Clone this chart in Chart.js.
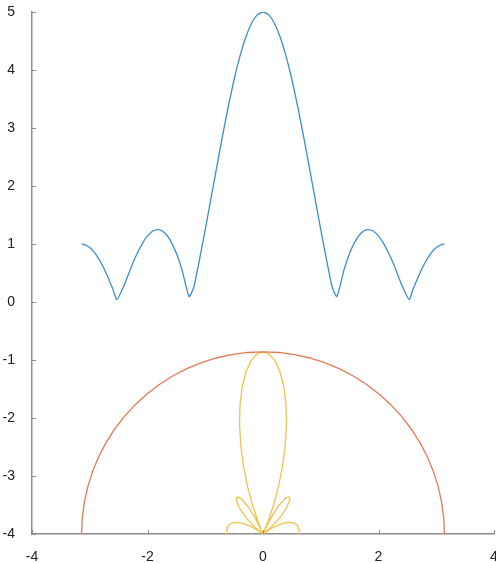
<!DOCTYPE html>
<html>
<head>
<meta charset="utf-8">
<script src="https://cdn.jsdelivr.net/npm/chart.js@4.4.1/dist/chart.umd.min.js"></script>
<style>
  html, body { margin: 0; padding: 0; background: #fff; }
  canvas { display: block; }
</style>
</head>
<body>
<canvas id="plot" width="496" height="563"></canvas>
<script>
// Array factor curve (cartesian)
const afX = [
  -3.1416, -3.1, -3.0, -2.9, -2.8, -2.7, -2.6, -2.53, -2.4, -2.3, -2.2, -2.1,
  -2.0, -1.9, -1.8, -1.7, -1.6, -1.5, -1.4, -1.28, -1.2, -1.1, -1.0, -0.9,
  -0.8, -0.7, -0.6, -0.5, -0.4, -0.3, -0.2, -0.1, 0,
  0.1, 0.2, 0.3, 0.4, 0.5, 0.6, 0.7, 0.8, 0.9, 1.0, 1.1, 1.2, 1.28, 1.4,
  1.5, 1.6, 1.7, 1.8, 1.9, 2.0, 2.1, 2.2, 2.3, 2.4, 2.53, 2.6, 2.7, 2.8,
  2.9, 3.0, 3.1, 3.1416
];
const afY = [
  1.000, 0.995, 0.940, 0.829, 0.667, 0.461, 0.223, 0.043, 0.300, 0.557, 0.792, 0.990,
  1.140, 1.229, 1.248, 1.191, 1.055, 0.839, 0.545, 0.094, 0.250, 0.730, 1.248, 1.789,
  2.335, 2.870, 3.375, 3.836, 4.236, 4.561, 4.802, 4.950, 5.000,
  4.950, 4.802, 4.561, 4.236, 3.836, 3.375, 2.870, 2.335, 1.789, 1.248, 0.730, 0.250, 0.094, 0.545,
  0.839, 1.055, 1.191, 1.248, 1.229, 1.140, 0.990, 0.792, 0.557, 0.300, 0.043, 0.223, 0.461, 0.667,
  0.829, 0.940, 0.995, 1.000
];

// Polar pattern, centred at (0, polarOriginY)
const polarOriginY = -4;
const lobeDeg = [
  0, 4, 8, 12, 16, 20, 24, 28, 32, 34, 36.87, 40, 44, 48, 52, 55, 58, 61, 64, 66.42,
  68, 70, 72, 74, 76, 78, 80, 82, 84, 86, 88, 90,
  92, 94, 96, 98, 100, 102, 104, 106, 108, 110, 112, 113.58, 116, 119, 122, 125, 128,
  132, 136, 140, 143.13, 146, 148, 152, 156, 160, 164, 168, 172, 176, 180
];
const lobeR = [
  0.628, 0.628, 0.627, 0.620, 0.601, 0.562, 0.494, 0.388, 0.238, 0.148, 0, 0.177, 0.411, 0.620, 0.757, 0.784, 0.724, 0.563, 0.294, 0,
  0.224, 0.540, 0.883, 1.241, 1.603, 1.955, 2.283, 2.573, 2.813, 2.993, 3.104, 3.142,
  3.104, 2.993, 2.813, 2.573, 2.283, 1.955, 1.603, 1.241, 0.883, 0.540, 0.224, 0, 0.294, 0.563, 0.724, 0.784, 0.757,
  0.620, 0.411, 0.177, 0, 0.148, 0.238, 0.388, 0.494, 0.562, 0.601, 0.620, 0.627, 0.628, 0.628
];
const circleDeg = [
  0, 5, 10, 15, 20, 25, 30, 35, 40, 45, 50, 55, 60, 65, 70, 75, 80, 85, 90,
  95, 100, 105, 110, 115, 120, 125, 130, 135, 140, 145, 150, 155, 160, 165, 170, 175, 180
];
const circleR = 3.1416;

const xTicks = [-4, -2, 0, 2, 4];
const yTicks = [-4, -3, -2, -1, 0, 1, 2, 3, 4, 5];

const AXIS_GREY = "#8c8c8c";
const LABEL_FONT = { family: "'Liberation Sans', Arial, Helvetica, sans-serif", size: 14 };

function polarToXY(deg, r) {
    return deg.map((d, i) => {
        const rad = d * Math.PI / 180;
        const rr = Array.isArray(r) ? r[i] : r;
        return { x: rr * Math.cos(rad), y: polarOriginY + rr * Math.sin(rad) };
    });
}

// inward tick marks
const innerTicks = {
    id: "innerTicks",
    afterDatasetsDraw(chart) {
        const { ctx, chartArea, scales } = chart;
        ctx.save();
        ctx.strokeStyle = AXIS_GREY;
        ctx.lineWidth = 1;
        ctx.beginPath();
        xTicks.forEach(v => {
            const px = Math.round(scales.x.getPixelForValue(v)) + 0.5;
            ctx.moveTo(px, chartArea.bottom);
            ctx.lineTo(px, chartArea.bottom - 4);
        });
        yTicks.forEach(v => {
            const py = Math.round(scales.y.getPixelForValue(v)) + 0.5;
            ctx.moveTo(chartArea.left, py);
            ctx.lineTo(chartArea.left + 4, py);
        });
        ctx.stroke();
        ctx.restore();
    }
};

const lineStyle = { showLine: true, pointRadius: 0, borderWidth: 1.3, fill: false, tension: 0 };

new Chart(document.getElementById("plot").getContext("2d"), {
    type: "scatter",
    data: {
        datasets: [
            { ...lineStyle, tension: 0.2, data: afX.map((x, i) => ({ x, y: afY[i] })), borderColor: "#3f8ccb" },
            { ...lineStyle, data: polarToXY(circleDeg, circleR), borderColor: "#e27a55" },
            { ...lineStyle, data: polarToXY(lobeDeg, lobeR), borderColor: "#f0c24e" },
        ],
    },
    options: {
        responsive: false,
        animation: false,
        devicePixelRatio: 1,
        layout: { padding: { top: 12, right: 2, left: 0, bottom: 0 } },
        plugins: {
            legend: { display: false },
            tooltip: { enabled: false },
        },
        scales: {
            x: {
                type: "linear",
                min: -4,
                max: 4,
                afterBuildTicks: s => { s.ticks = xTicks.map(v => ({ value: v })); },
                ticks: { color: "#222", font: LABEL_FONT, padding: 7, maxRotation: 0 },
                grid: { display: false },
                border: { display: true, color: AXIS_GREY, width: 1.5 },
                afterFit: s => { s.height = 29; s.paddingLeft = 0; s.paddingRight = 0; },
            },
            y: {
                type: "linear",
                min: -4,
                max: 5,
                afterBuildTicks: s => { s.ticks = yTicks.map(v => ({ value: v })); },
                ticks: { color: "#222", font: LABEL_FONT, padding: 9 },
                grid: { display: false },
                border: { display: true, color: AXIS_GREY, width: 1.5 },
                afterFit: s => { s.width = 32; s.paddingTop = 0; s.paddingBottom = 0; },
            },
        },
    },
    plugins: [innerTicks],
});
</script>
</body>
</html>
